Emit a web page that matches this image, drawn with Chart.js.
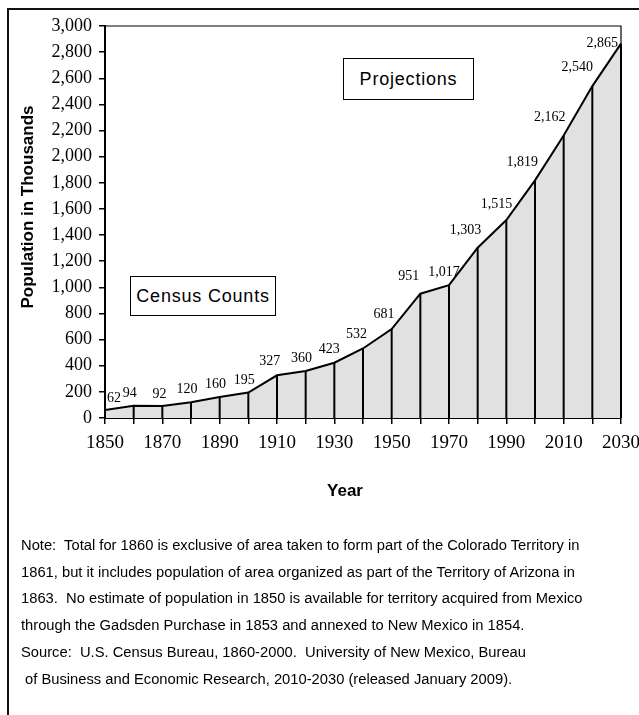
<!DOCTYPE html>
<html>
<head>
<meta charset="utf-8">
<script src="https://cdn.jsdelivr.net/npm/chart.js@4.4.1/dist/chart.umd.min.js"></script>
<style>
  html, body { margin: 0; padding: 0; background: #fff; }
  body { width: 639px; height: 715px; overflow: hidden; position: relative; }
  #frame { position: absolute; left: 7px; top: 8px; width: 700px; height: 800px;
           border-left: 2px solid #111; border-top: 2px solid #111; }
  #popChart { position: absolute; left: 0; top: 0; }
  .tag { position: absolute; border: 1px solid #000; background: #fff;
         font: 18px "Liberation Sans", Arial, sans-serif; letter-spacing: 0.8px;
         display: flex; align-items: center; justify-content: center; box-sizing: border-box; }
  #note { position: absolute; left: 21px; top: 532px; margin: 0;
          font: 15.5px "Liberation Sans", Arial, sans-serif;
          transform: scaleX(0.95); transform-origin: 0 0;
          line-height: 26.7px; white-space: pre; color: #000; }
</style>
</head>
<body>
<div id="frame"></div>
<canvas id="popChart" width="639" height="715"></canvas>
<div class="tag" style="left:130px; top:276px; width:146px; height:40px;">Census Counts</div>
<div class="tag" style="left:343px; top:58px; width:131px; height:42px;">Projections</div>
<p id="note">Note:  Total for 1860 is exclusive of area taken to form part of the Colorado Territory in
1861, but it includes population of area organized as part of the Territory of Arizona in
1863.  No estimate of population in 1850 is available for territory acquired from Mexico
through the Gadsden Purchase in 1853 and annexed to New Mexico in 1854.
Source:  U.S. Census Bureau, 1860-2000.  University of New Mexico, Bureau
 of Business and Economic Research, 2010-2030 (released January 2009).</p>
<script>
const ctx_pop = 'popChart';

// census counts 1850-2000 and projections 2010-2030, thousands
var years = [1850, 1860, 1870, 1880, 1890, 1900, 1910, 1920, 1930, 1940,
             1950, 1960, 1970, 1980, 1990, 2000, 2010, 2020, 2030];
var population = [62, 94, 92, 120, 160, 195, 327, 360, 423, 532,
                  681, 951, 1017, 1303, 1515, 1819, 2162, 2540, 2865];
var yRange = [0, 3000];
var yStep = 200;
var xLabelStep = 20;

var fmt = n => n.toLocaleString('en-US');

const decor = {
    id: 'decor',
    afterDatasetsDraw(chart) {
        const { ctx, chartArea: a } = chart;
        const pts = chart.getDatasetMeta(0).data;
        ctx.save();

        // drop lines from every point to the axis
        ctx.strokeStyle = '#000';
        ctx.lineWidth = 2;
        pts.forEach(p => {
            ctx.beginPath();
            ctx.moveTo(p.x, p.y);
            ctx.lineTo(p.x, a.bottom);
            ctx.stroke();
        });

        // top / right frame of plot area
        ctx.lineWidth = 1.2;
        ctx.beginPath();
        ctx.moveTo(a.left, a.top);
        ctx.lineTo(a.right, a.top);
        ctx.lineTo(a.right, a.bottom);
        ctx.stroke();

        // value labels, nudged away from the rising line
        ctx.fillStyle = '#000';
        ctx.font = '14px "Liberation Serif", "Times New Roman", serif';
        ctx.textAlign = 'center';
        ctx.textBaseline = 'middle';
        pts.forEach((p, i) => {
            const txt = fmt(population[i]);
            const w = ctx.measureText(txt).width;
            const prev = pts[i - 1];
            const s = prev ? (prev.y - p.y) / (p.x - prev.x) : 0;
            let cx = p.x - 3 - 7 * s;
            let cy = p.y - 12 - 4 * s;
            if (cx - w / 2 < a.left + 2) cx = a.left + 2 + w / 2;
            if (cx + w / 2 > a.right - 2) { cx = a.right - 3 - w / 2; cy = p.y; }
            ctx.fillText(txt, cx, cy);
        });
        ctx.restore();
    },
    afterDraw(chart) {
        const { ctx, chartArea: a } = chart;
        ctx.save();
        ctx.fillStyle = '#000';
        ctx.font = 'bold 17px "Liberation Sans", Arial, sans-serif';
        ctx.textAlign = 'center';
        ctx.textBaseline = 'middle';
        ctx.fillText('Year', 345, a.bottom + 73);
        ctx.translate(28, 207);
        ctx.rotate(-Math.PI / 2);
        ctx.fillText('Population in Thousands', 0, 0);
        ctx.restore();
    }
};

const popChart = new Chart(ctx_pop, {
    type: 'line',
    data: {
        datasets: [{
            label: 'Population',
            data: years.map((y, i) => ({ x: y, y: population[i] })),
            borderColor: '#000',
            borderWidth: 2,
            backgroundColor: '#e1e1e1',
            fill: 'origin',
            pointRadius: 0,
            tension: 0
        }]
    },
    options: {
        responsive: false,
        animation: false,
        layout: {
            padding: { left: 10, right: 18, top: 26, bottom: 237 }
        },
        plugins: {
            legend: { display: false },
            tooltip: { enabled: false }
        },
        scales: {
            x: {
                type: 'linear',
                min: years[0],
                max: years[years.length - 1],
                afterFit: s => { s.height = 60; s.paddingLeft = 0; s.paddingRight = 0; },
                border: { display: true, color: '#000', width: 2 },
                grid: { drawOnChartArea: false, drawTicks: true, tickLength: 6, color: '#000', lineWidth: 1.5 },
                ticks: {
                    stepSize: 10,
                    autoSkip: false,
                    maxRotation: 0,
                    padding: 8,
                    color: '#000',
                    font: { family: '"Liberation Serif", "Times New Roman", serif', size: 19 },
                    callback: v => (v - years[0]) % xLabelStep === 0 ? String(v) : ''
                }
            },
            y: {
                min: yRange[0],
                max: yRange[1],
                afterFit: s => { s.width = 95; s.paddingTop = 0; s.paddingBottom = 0; },
                border: { display: true, color: '#000', width: 2 },
                grid: { drawOnChartArea: false, drawTicks: true, tickLength: 6, color: '#000', lineWidth: 1.5 },
                ticks: {
                    stepSize: yStep,
                    padding: 7,
                    color: '#000',
                    font: { family: '"Liberation Serif", "Times New Roman", serif', size: 18 },
                    callback: v => fmt(v)
                }
            }
        }
    },
    plugins: [decor]
});
</script>
</body>
</html>
